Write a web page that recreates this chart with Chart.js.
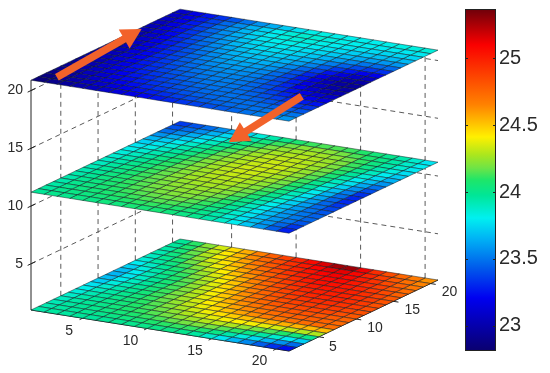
<!DOCTYPE html>
<html>
<head>
<meta charset="utf-8">
<script src="https://cdn.jsdelivr.net/npm/chart.js@4"></script>
<style>
  body { margin: 0; background: #fff; }
  canvas { filter: blur(0.4px); }
  #surf { position: absolute; left: 0; top: 0; }
  #bar { position: absolute; left: 465px; top: 0; }
</style>
</head>
<body>
<canvas id="surf" width="465" height="373"></canvas>
<canvas id="bar" width="85" height="373"></canvas>
<script>
// axis ticks
const xTicks = [5, 10, 15, 20];
const yTicks = [5, 10, 15, 20];
const zTicks = [5, 10, 15, 20];
const colorbarTicks = [23, 23.5, 24, 24.5, 25];

// height of each sheet
const layerZ = [20.9, 11.2, 1];

// cell colours per sheet, one row per y (front edge first), x left to right
const topValues = [
  [22.85,22.90,22.95,23.00,23.05,23.10,23.14,23.18,23.22,23.26,23.30,23.34,23.37,23.40,23.43,23.46,23.49,23.52,23.55,23.58],
  [22.87,22.93,22.99,23.05,23.10,23.15,23.19,23.24,23.28,23.32,23.36,23.40,23.43,23.45,23.47,23.48,23.49,23.50,23.50,23.50],
  [22.89,22.96,23.02,23.08,23.14,23.19,23.24,23.29,23.33,23.37,23.41,23.44,23.46,23.48,23.48,23.48,23.47,23.45,23.43,23.42],
  [22.91,22.98,23.05,23.11,23.17,23.23,23.28,23.33,23.37,23.41,23.44,23.47,23.48,23.49,23.47,23.45,23.42,23.38,23.35,23.33],
  [22.92,23.00,23.07,23.14,23.20,23.26,23.31,23.36,23.40,23.44,23.47,23.49,23.49,23.48,23.45,23.41,23.36,23.31,23.27,23.25],
  [22.93,23.01,23.09,23.16,23.23,23.29,23.34,23.39,23.43,23.47,23.50,23.51,23.50,23.47,23.43,23.37,23.30,23.24,23.19,23.16],
  [22.94,23.02,23.10,23.18,23.25,23.31,23.37,23.42,23.46,23.50,23.52,23.52,23.50,23.46,23.40,23.33,23.25,23.17,23.11,23.08],
  [22.95,23.03,23.12,23.19,23.27,23.33,23.39,23.45,23.49,23.52,23.54,23.53,23.51,23.46,23.39,23.30,23.20,23.10,23.04,23.01],
  [22.96,23.04,23.13,23.21,23.28,23.35,23.42,23.47,23.52,23.55,23.56,23.55,23.52,23.46,23.38,23.28,23.16,23.06,22.99,22.97],
  [22.97,23.05,23.14,23.22,23.30,23.37,23.44,23.50,23.55,23.58,23.59,23.57,23.54,23.47,23.38,23.27,23.15,23.04,22.97,22.95],
  [22.98,23.06,23.15,23.23,23.31,23.39,23.46,23.53,23.58,23.61,23.62,23.60,23.57,23.50,23.41,23.30,23.18,23.07,23.00,22.98],
  [22.99,23.08,23.16,23.25,23.33,23.41,23.49,23.55,23.61,23.65,23.65,23.64,23.60,23.54,23.46,23.36,23.25,23.15,23.08,23.06],
  [23.00,23.09,23.18,23.27,23.35,23.44,23.52,23.59,23.65,23.68,23.69,23.68,23.65,23.60,23.53,23.44,23.35,23.26,23.20,23.19],
  [23.02,23.10,23.20,23.29,23.38,23.47,23.55,23.62,23.68,23.72,23.73,23.72,23.69,23.65,23.59,23.52,23.45,23.39,23.34,23.33],
  [23.03,23.12,23.22,23.32,23.41,23.50,23.58,23.66,23.72,23.75,23.76,23.75,23.73,23.70,23.65,23.60,23.55,23.50,23.47,23.47],
  [23.04,23.14,23.24,23.34,23.44,23.53,23.61,23.69,23.75,23.78,23.79,23.78,23.76,23.74,23.71,23.67,23.63,23.60,23.58,23.58],
  [23.06,23.16,23.26,23.36,23.46,23.56,23.64,23.72,23.78,23.81,23.82,23.81,23.79,23.77,23.75,23.72,23.70,23.68,23.67,23.67],
  [23.07,23.17,23.27,23.37,23.48,23.57,23.66,23.74,23.80,23.84,23.85,23.84,23.82,23.80,23.78,23.77,23.75,23.74,23.74,23.74],
  [23.08,23.17,23.27,23.37,23.47,23.56,23.65,23.73,23.80,23.85,23.87,23.86,23.84,23.82,23.81,23.80,23.79,23.79,23.79,23.79],
  [23.10,23.17,23.25,23.33,23.41,23.49,23.57,23.64,23.71,23.77,23.82,23.83,23.82,23.81,23.81,23.81,23.82,23.83,23.84,23.85]
];
const midValues = [
  [23.98,24.00,24.00,24.02,24.02,24.04,24.04,24.06,24.06,24.06,24.04,24.02,24.00,23.94,23.88,23.80,23.70,23.58,23.44,23.28],
  [23.96,24.00,24.02,24.03,24.05,24.07,24.09,24.10,24.11,24.10,24.08,24.05,24.00,23.94,23.86,23.78,23.68,23.58,23.46,23.34],
  [23.95,24.00,24.03,24.05,24.07,24.10,24.12,24.14,24.15,24.14,24.12,24.08,24.02,23.95,23.87,23.77,23.67,23.58,23.50,23.42],
  [23.94,24.00,24.03,24.06,24.09,24.12,24.15,24.17,24.18,24.18,24.15,24.11,24.05,23.97,23.88,23.78,23.67,23.58,23.51,23.46],
  [23.94,23.99,24.03,24.07,24.10,24.14,24.17,24.20,24.21,24.21,24.19,24.14,24.08,24.00,23.90,23.79,23.68,23.58,23.50,23.45],
  [23.94,23.98,24.03,24.07,24.11,24.15,24.19,24.21,24.23,24.23,24.21,24.18,24.11,24.02,23.92,23.81,23.70,23.59,23.49,23.42],
  [23.93,23.98,24.03,24.07,24.12,24.16,24.20,24.23,24.24,24.25,24.24,24.21,24.15,24.06,23.96,23.85,23.72,23.60,23.47,23.38],
  [23.92,23.97,24.02,24.07,24.12,24.17,24.21,24.24,24.26,24.27,24.26,24.23,24.18,24.10,24.00,23.88,23.75,23.60,23.46,23.34],
  [23.90,23.96,24.01,24.06,24.12,24.17,24.22,24.26,24.28,24.28,24.28,24.25,24.21,24.13,24.03,23.91,23.78,23.62,23.46,23.31],
  [23.89,23.94,24.00,24.05,24.11,24.17,24.22,24.26,24.29,24.30,24.30,24.27,24.23,24.16,24.06,23.94,23.80,23.65,23.48,23.30],
  [23.87,23.92,23.98,24.04,24.10,24.16,24.22,24.26,24.30,24.32,24.31,24.29,24.25,24.19,24.09,23.97,23.84,23.69,23.52,23.33],
  [23.85,23.90,23.96,24.02,24.08,24.15,24.21,24.26,24.30,24.33,24.33,24.30,24.27,24.21,24.12,24.00,23.87,23.73,23.57,23.40],
  [23.82,23.87,23.93,23.99,24.06,24.13,24.21,24.26,24.30,24.33,24.33,24.32,24.28,24.23,24.15,24.03,23.90,23.77,23.63,23.49],
  [23.78,23.83,23.89,23.96,24.03,24.11,24.19,24.24,24.29,24.32,24.33,24.33,24.29,24.24,24.17,24.06,23.94,23.81,23.69,23.58],
  [23.73,23.78,23.85,23.92,24.00,24.08,24.16,24.23,24.28,24.31,24.33,24.32,24.30,24.25,24.19,24.09,23.97,23.86,23.75,23.65],
  [23.66,23.72,23.80,23.88,23.96,24.04,24.13,24.21,24.26,24.30,24.31,24.31,24.29,24.26,24.20,24.11,24.00,23.90,23.80,23.71],
  [23.57,23.64,23.72,23.81,23.90,23.99,24.08,24.17,24.23,24.27,24.29,24.30,24.28,24.25,24.20,24.12,24.02,23.93,23.84,23.76],
  [23.48,23.55,23.64,23.73,23.83,23.93,24.02,24.11,24.19,24.24,24.26,24.27,24.26,24.23,24.18,24.11,24.03,23.95,23.87,23.79],
  [23.41,23.48,23.56,23.65,23.75,23.85,23.95,24.04,24.12,24.18,24.22,24.23,24.22,24.19,24.14,24.08,24.02,23.95,23.88,23.80],
  [23.35,23.41,23.48,23.56,23.65,23.75,23.85,23.94,24.02,24.08,24.12,24.14,24.14,24.12,24.09,24.05,24.00,23.94,23.87,23.78]
];
const lowValues = [
  [23.94,23.96,23.96,23.97,23.97,23.98,23.99,24.00,24.01,24.02,24.02,24.00,23.96,23.88,23.78,23.66,23.55,23.44,23.33,23.24],
  [23.93,23.96,23.97,23.99,24.00,24.02,24.04,24.06,24.08,24.10,24.11,24.11,24.08,24.02,23.94,23.84,23.75,23.66,23.57,23.48],
  [23.92,23.96,23.98,24.00,24.03,24.05,24.08,24.11,24.14,24.17,24.19,24.20,24.19,24.15,24.10,24.02,23.95,23.87,23.79,23.72],
  [23.90,23.95,23.98,24.01,24.04,24.08,24.11,24.15,24.19,24.23,24.26,24.29,24.30,24.28,24.24,24.19,24.14,24.09,24.04,24.00],
  [23.88,23.94,23.97,24.01,24.05,24.09,24.13,24.18,24.23,24.28,24.33,24.37,24.40,24.41,24.40,24.37,24.34,24.31,24.29,24.28],
  [23.85,23.92,23.96,24.01,24.05,24.10,24.15,24.21,24.27,24.33,24.39,24.45,24.49,24.52,24.54,24.55,24.55,24.54,24.53,24.53],
  [23.82,23.90,23.95,24.00,24.05,24.11,24.17,24.24,24.31,24.38,24.45,24.52,24.58,24.63,24.67,24.70,24.72,24.73,24.73,24.72],
  [23.77,23.87,23.93,23.99,24.05,24.12,24.19,24.26,24.34,24.42,24.50,24.58,24.64,24.69,24.73,24.76,24.78,24.78,24.76,24.74],
  [23.72,23.84,23.92,23.98,24.05,24.12,24.20,24.28,24.37,24.46,24.55,24.63,24.70,24.75,24.79,24.81,24.82,24.81,24.79,24.76],
  [23.68,23.80,23.90,23.97,24.05,24.13,24.21,24.30,24.40,24.50,24.59,24.68,24.75,24.80,24.84,24.86,24.87,24.86,24.83,24.80],
  [23.66,23.78,23.89,23.98,24.06,24.14,24.23,24.33,24.43,24.54,24.63,24.72,24.79,24.84,24.88,24.90,24.91,24.90,24.87,24.83],
  [23.68,23.80,23.91,24.00,24.08,24.16,24.26,24.36,24.47,24.57,24.67,24.76,24.83,24.89,24.93,24.95,24.95,24.93,24.90,24.84],
  [23.73,23.84,23.94,24.03,24.11,24.20,24.30,24.40,24.51,24.62,24.72,24.80,24.87,24.93,24.97,24.98,24.98,24.95,24.90,24.83],
  [23.80,23.89,23.98,24.07,24.15,24.25,24.35,24.46,24.56,24.66,24.76,24.85,24.92,24.97,25.00,25.00,24.99,24.95,24.90,24.82],
  [23.86,23.95,24.03,24.12,24.21,24.31,24.42,24.52,24.62,24.72,24.81,24.90,24.96,25.01,25.03,25.02,24.99,24.94,24.88,24.80],
  [23.90,23.99,24.08,24.18,24.28,24.38,24.48,24.58,24.68,24.78,24.87,24.95,25.01,25.05,25.05,25.03,24.98,24.92,24.85,24.77],
  [23.93,24.03,24.13,24.23,24.34,24.44,24.54,24.64,24.74,24.84,24.93,25.00,25.05,25.08,25.07,25.02,24.96,24.89,24.81,24.73],
  [23.95,24.06,24.17,24.28,24.39,24.49,24.59,24.70,24.80,24.90,24.98,25.04,25.09,25.11,25.08,25.01,24.93,24.85,24.77,24.69],
  [23.97,24.08,24.20,24.32,24.43,24.53,24.64,24.75,24.85,24.94,25.02,25.09,25.14,25.14,25.08,24.98,24.89,24.80,24.72,24.65],
  [23.98,24.10,24.22,24.34,24.46,24.56,24.67,24.78,24.88,24.98,25.07,25.16,25.27,25.28,25.12,24.95,24.84,24.75,24.68,24.62]
];

// range of the colour bar
const colorbarRange = [22.81, 25.37];

// colour map: position 0..1 and rgb
const mapStops = [0, 0.155, 0.243, 0.33, 0.389, 0.456, 0.5, 0.535, 0.573, 0.626, 0.72, 0.895, 1];
const mapColors = [
  [10,0,110],[0,0,240],[0,90,235],[0,180,245],[0,240,240],[0,230,150],[30,230,105],
  [110,228,70],[170,230,30],[255,240,0],[255,130,0],[250,0,0],[110,0,10]
];

// two arrows, as [x, y, z] in axis units
const arrowTails = [[2.14, 2.5, 20.9], [18.7, 6.7, 20.9]];
const arrowTips = [[1.2, 15.5, 20.9], [6.4, 18.2, 11.2]];

// view: px per axis unit
const project = (x, y, z) => ({
  x: 12.9 * x + 7.45 * y,
  y: -2.05 * x + 3.55 * y + 11.55 * z
});

const colorOf = v => {
  const t = Math.min(Math.max((v - colorbarRange[0]) / (colorbarRange[1] - colorbarRange[0]), 0), 1);
  let k = 0;
  while (k < mapStops.length - 2 && t > mapStops[k + 1]) k++;
  const f = (t - mapStops[k]) / (mapStops[k + 1] - mapStops[k]);
  const rgb = mapColors[k].map((c, n) => Math.round(c + (mapColors[k + 1][n] - c) * f));
  return `rgb(${rgb.join(",")})`;
};

const datasets = [];

const addLine = (pts, color, width, dash, order) => {
  datasets.push({
    data: pts.map(p => project(p[0], p[1], p[2])),
    borderColor: color,
    borderWidth: width,
    borderDash: dash,
    pointRadius: 0,
    fill: false,
    tension: 0,
    order: order
  });
};

// walls, dashed
const gridCol = "#5a5a5a";
zTicks.forEach(z => {
  addLine([[1, 1, z], [1, 21, z], [21, 21, z]], gridCol, 1, [5, 4], 3000);
});
yTicks.forEach(y => {
  addLine([[1, y, 1], [1, y, 21]], gridCol, 1, [5, 4], 3000);
});
xTicks.forEach(x => {
  addLine([[x, 21, 1], [x, 21, 21]], gridCol, 1, [5, 4], 3000);
});

// axes
addLine([[1, 1, 1], [1, 1, 20.9]], "#222", 1, [], 2900);
addLine([[1, 1, 1], [21, 1, 1]], "#222", 1, [], 2900);
addLine([[21, 1, 1], [21, 21, 1]], "#222", 1, [], 2900);
zTicks.forEach(z => addLine([[1, 0.55, z], [1, 1.6, z]], "#222", 1, [], 2900));
xTicks.forEach(x => addLine([[x, 0.6, 1], [x, 1, 1]], "#222", 1, [], 2900));
yTicks.forEach(y => addLine([[21, y, 1], [21.4, y, 1]], "#222", 1, [], 2900));

// the three sheets
[topValues, midValues, lowValues].forEach((rows, l) => {
  const z = layerZ[l];
  rows.forEach((row, j) => {
    row.forEach((v, i) => {
      const x = i + 1, y = j + 1;
      datasets.push({
        data: [project(x, y, z), project(x + 1, y, z), project(x + 1, y + 1, z), project(x, y + 1, z), project(x, y, z)],
        backgroundColor: colorOf(v),
        borderColor: "rgba(15,25,30,0.7)",
        borderWidth: 0.7,
        pointRadius: 0,
        fill: "shape",
        tension: 0,
        order: 100
      });
    });
  });
});

const labelsPlugin = {
  id: "labels",
  afterDatasetsDraw(chart) {
    const { ctx, scales } = chart;
    const toPx = p => {
      const q = project(p[0], p[1], p[2]);
      return { x: scales.x.getPixelForValue(q.x), y: scales.y.getPixelForValue(q.y) };
    };
    ctx.save();
    ctx.font = "14px 'Liberation Sans', Arial, sans-serif";
    ctx.fillStyle = "#2a2a2a";
    ctx.textBaseline = "middle";
    ctx.textAlign = "right";
    zTicks.forEach(z => {
      const q = toPx([1, 1, z]);
      ctx.fillText(String(z), q.x - 8, q.y);
    });
    ctx.textAlign = "center";
    xTicks.forEach(x => {
      const q = toPx([x, 1, 1]);
      ctx.fillText(String(x), q.x - (x < 10 ? 13.5 : 16.5), q.y + 12.5);
    });
    yTicks.forEach(y => {
      const q = toPx([21, y, 1]);
      ctx.fillText(String(y), q.x + (y < 10 ? 14 : 19), q.y + (y < 10 ? 10.5 : 9));
    });
    // arrows
    ctx.fillStyle = "#f2622a";
    ctx.strokeStyle = "#f2622a";
    arrowTails.forEach((tail, k) => {
      const a = toPx(tail), b = toPx(arrowTips[k]);
      const ang = Math.atan2(b.y - a.y, b.x - a.x);
      const ux = Math.cos(ang), uy = Math.sin(ang);
      const bx = b.x - ux * 20, by = b.y - uy * 20;
      ctx.lineWidth = 7.5;
      ctx.beginPath();
      ctx.moveTo(a.x, a.y);
      ctx.lineTo(bx + ux * 2, by + uy * 2);
      ctx.stroke();
      ctx.beginPath();
      ctx.moveTo(b.x, b.y);
      ctx.lineTo(bx - uy * 11, by + ux * 11);
      ctx.lineTo(bx + uy * 11, by - ux * 11);
      ctx.closePath();
      ctx.fill();
    });
    ctx.restore();
  }
};

new Chart(document.getElementById("surf"), {
  type: "line",
  data: { datasets: datasets },
  plugins: [labelsPlugin],
  options: {
    responsive: false,
    animation: false,
    events: [],
    layout: { padding: 0 },
    plugins: { legend: { display: false }, tooltip: { enabled: false } },
    scales: {
      x: { type: "linear", display: false, min: -10.65, max: 454.35 },
      y: { type: "linear", display: false, min: -49.95, max: 323.05 }
    }
  }
});

// colour bar, one floating bar filled with the map
const barFill = c => {
  const a = c.chart.chartArea;
  if (!a) return "#000";
  const g = c.chart.ctx.createLinearGradient(0, a.bottom, 0, a.top);
  mapStops.forEach((s, i) => g.addColorStop(s, `rgb(${mapColors[i].join(",")})`));
  return g;
};

const framePlugin = {
  id: "frame",
  afterDatasetsDraw(chart) {
    const { ctx, chartArea: a, scales } = chart;
    ctx.save();
    ctx.strokeStyle = "#222";
    ctx.lineWidth = 1;
    ctx.strokeRect(a.left + 0.5, a.top + 0.5, a.right - a.left - 1, a.bottom - a.top - 1);
    colorbarTicks.forEach(v => {
      const y = Math.round(scales.y.getPixelForValue(v)) + 0.5;
      ctx.beginPath();
      ctx.moveTo(a.left, y);
      ctx.lineTo(a.left + 3, y);
      ctx.moveTo(a.right, y);
      ctx.lineTo(a.right - 3, y);
      ctx.stroke();
    });
    ctx.restore();
  }
};

new Chart(document.getElementById("bar"), {
  type: "bar",
  data: {
    labels: [""],
    datasets: [{
      data: [colorbarRange],
      backgroundColor: barFill,
      borderWidth: 0,
      barPercentage: 1,
      categoryPercentage: 1
    }]
  },
  plugins: [framePlugin],
  options: {
    responsive: false,
    animation: false,
    events: [],
    layout: { padding: { top: 9, bottom: 22, left: 0, right: 0 } },
    plugins: { legend: { display: false }, tooltip: { enabled: false } },
    scales: {
      x: { display: false },
      y: {
        position: "right",
        min: colorbarRange[0],
        max: colorbarRange[1],
        grid: { display: false, drawTicks: false },
        border: { display: false },
        afterBuildTicks: s => { s.ticks = colorbarTicks.map(v => ({ value: v })); },
        afterFit: s => { s.width = 54; s.paddingTop = 0; s.paddingBottom = 0; },
        ticks: {
          padding: 3,
          color: "#2a2a2a",
          font: { family: "'Liberation Sans', Arial, sans-serif", size: 20 },
          callback: v => String(v)
        }
      }
    }
  }
});
</script>
</body>
</html>
